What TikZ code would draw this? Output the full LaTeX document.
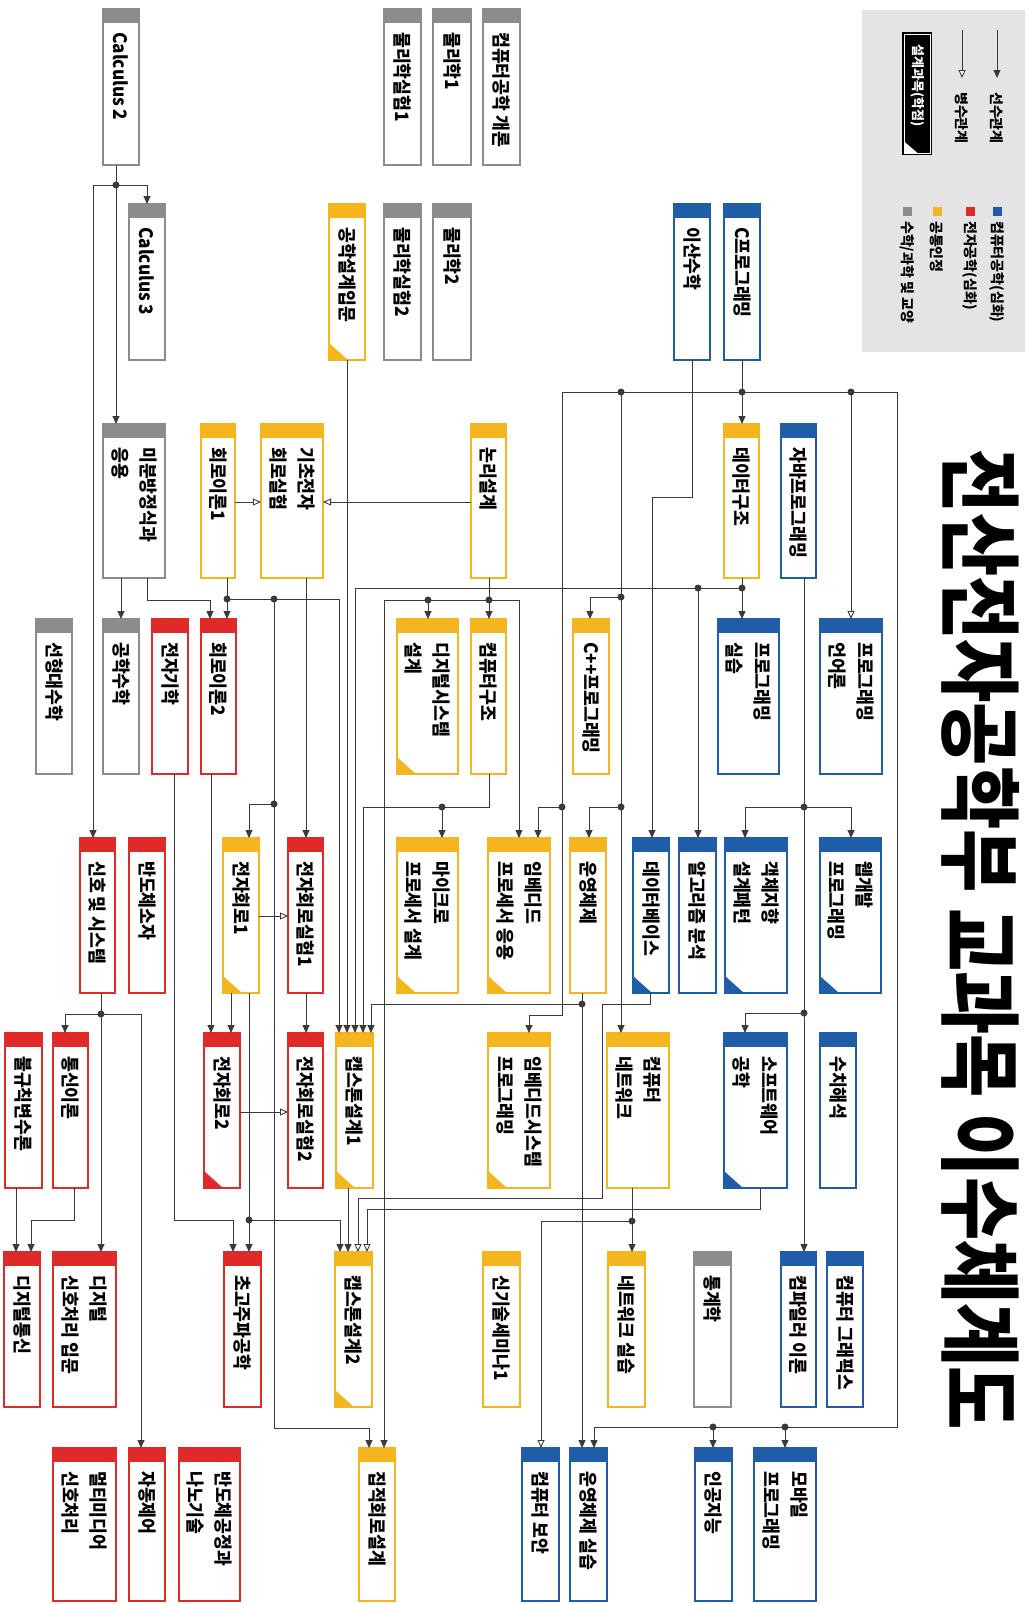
\documentclass[tikz,border=0pt]{standalone}
\usepackage{fontspec}
\setmainfont{Noto Sans CJK KR}[BoldFont={Noto Sans CJK KR Black}]
\newfontfamily\boxfont{Noto Sans CJK KR Black}[FakeStretch=0.93]
\usetikzlibrary{arrows.meta}
\definecolor{cblue}{HTML}{1F5DA8}
\definecolor{cred}{HTML}{E02A2A}
\definecolor{cyel}{HTML}{F5B51F}
\definecolor{cgray}{HTML}{8C8C8C}
\definecolor{lnc}{HTML}{3A3A3A}
\definecolor{legbg}{HTML}{E4E4E4}
\tikzset{
  cbox/.style={draw=#1, line width=2.2pt, fill=white, inner sep=0pt, outer sep=0pt, anchor=north west, rectangle},
  ktext/.style={rotate=-90, anchor=west, align=left, inner sep=0pt, font=\boxfont\fontsize{18.5}{28}\selectfont},
  ltext/.style={rotate=-90, anchor=west, inner sep=0pt, font=\bfseries\fontsize{14}{16}\selectfont},
  lnp/.style={draw=lnc, line width=0.9pt},
  pre/.style={lnp, -{Triangle[length=8pt,width=7pt]}},
  co/.style={lnp, -{Triangle[open,fill=white,length=8pt,width=7pt]}},
}
\newcommand\crs[7]{%
  \node[cbox=#6,minimum width=#4pt,minimum height=#5pt] (#1) at (#2,#3) {};
  \fill[#6] (#1.north west) rectangle ([yshift=-14pt]#1.north east);
  \node[ktext] at ([yshift=-23pt]#1.north) {#7};
}
\newcommand\dsn[2]{\fill[#2] (#1.south west) -- ++(0pt,17pt) -- ++(19pt,-17pt) -- cycle;}
\newcommand\dt[2]{\fill[lnc] (#1,#2) circle (3.5pt);}
\begin{document}
\begin{tikzpicture}[x=1pt,y=-1pt]
\useasboundingbox (0,0) rectangle (1029,1604);
\fill[white] (0,0) rectangle (1029,1604);

% ---------- legend ----------
\fill[legbg] (862,10) rectangle (1025,352);
\coordinate (lg1a) at (997,30); \coordinate (lg1b) at (997,78);
\coordinate (lg2a) at (962,30); \coordinate (lg2b) at (962,78);
\draw[pre] (lg1a) -- (lg1b);
\draw[co] (lg2a) -- (lg2b);
\node[ltext] (lgt1) at (997,92) {선수관계};
\node[ltext] (lgt2) at (962,92) {병수관계};
\node[fill=black, minimum width=30pt, minimum height=123pt, anchor=north west, inner sep=0pt] (dbox) at (902,32) {};
\draw[white, line width=0.8pt] ([shift={(2pt,-2pt)}]dbox.north west) rectangle ([shift={(-2pt,2pt)}]dbox.south east);
\fill[white] ([shift={(2pt,2pt)}]dbox.south west) -- ++(0pt,12pt) -- ++(14pt,-12pt) -- cycle;
\node[ltext, text=white, font=\bfseries\fontsize{13}{15}\selectfont] (dboxt) at ([yshift=-12pt]dbox.north) {설계과목(학점)};
\fill[cblue] (993,207) rectangle (1002,216);
\fill[cred]  (966,207) rectangle (975,216);
\fill[cyel]  (933,207) rectangle (942,216);
\fill[cgray] (903,207) rectangle (912,216);
\node[ltext] (lc1) at (997,221) {컴퓨터공학(심화)};
\node[ltext] (lc2) at (970,221) {전자공학(심화)};
\node[ltext] (lc3) at (937,221) {공통인정};
\node[ltext] (lc4) at (907,221) {수학/과학 및 교양};

% ---------- title ----------
\node[rotate=-90, inner sep=0pt] (title) at (981,940) {\resizebox{980pt}{70pt}{\bfseries 전산전자공학부 교과목 이수체계도}};

% ---------- boxes ----------
% row -1
\crs{cal2}{103}{9}{36}{156}{cgray}{Calculus 2}
\crs{phl1}{384}{9}{37}{156}{cgray}{물리학실험1}
\crs{phy1}{433}{9}{38}{156}{cgray}{물리학1}
\crs{intro}{483}{9}{37}{156}{cgray}{컴퓨터공학 개론}
% row 0
\crs{cal3}{129}{204}{36}{156}{cgray}{Calculus 3}
\crs{edi}{329}{204}{36}{156}{cyel}{공학설계입문}\dsn{edi}{cyel}
\crs{phl2}{384}{204}{37}{156}{cgray}{물리학실험2}
\crs{phy2}{433}{204}{38}{156}{cgray}{물리학2}
\crs{dm}{674}{204}{36}{156}{cblue}{이산수학}
\crs{cprog}{724}{204}{36}{156}{cblue}{C프로그래밍}
% row 1
\crs{de}{103}{424}{62}{154}{cgray}{미분방정식과\\응용}
\crs{ct1}{201}{424}{34}{154}{cyel}{회로이론1}
\crs{bel}{261}{424}{62}{154}{cyel}{기초전자\\회로실험}
\crs{ld}{471}{424}{35}{154}{cyel}{논리설계}
\crs{ds}{724}{424}{35}{154}{cyel}{데이터구조}
\crs{java}{781}{424}{35}{154}{cblue}{자바프로그래밍}
% row 2
\crs{la}{36}{619}{36}{155}{cgray}{선형대수학}
\crs{em}{103}{619}{36}{155}{cgray}{공학수학}
\crs{emag}{152}{619}{36}{155}{cred}{전자기학}
\crs{ct2}{201}{619}{35}{155}{cred}{회로이론2}
\crs{dsd}{397}{619}{61}{155}{cyel}{디지털시스템\\설계}\dsn{dsd}{cyel}
\crs{ca}{471}{619}{35}{155}{cyel}{컴퓨터구조}
\crs{cpp}{573}{619}{36}{155}{cyel}{C++프로그래밍}
\crs{pp}{718}{619}{61}{155}{cblue}{프로그래밍\\실습}
\crs{pl}{820}{619}{62}{155}{cblue}{프로그래밍\\언어론}
% row 3
\crs{ss}{80}{838}{35}{155}{cred}{신호 및 시스템}
\crs{sd}{129}{838}{36}{155}{cred}{반도체소자}
\crs{ec1}{223}{838}{36}{155}{cyel}{전자회로1}\dsn{ec1}{cyel}
\crs{ecl1}{288}{838}{35}{155}{cred}{전자회로실험1}
\crs{mpd}{397}{838}{61}{155}{cyel}{마이크로\\프로세서 설계}\dsn{mpd}{cyel}
\crs{epa}{488}{838}{62}{155}{cyel}{임베디드\\프로세서 응용}\dsn{epa}{cyel}
\crs{os}{570}{838}{36}{155}{cyel}{운영체제}
\crs{db}{633}{838}{36}{155}{cblue}{데이터베이스}\dsn{db}{cblue}
\crs{alg}{679}{838}{37}{155}{cblue}{알고리즘 분석}
\crs{oop}{725}{838}{62}{155}{cblue}{객체지향\\설계패턴}\dsn{oop}{cblue}
\crs{web}{820}{838}{61}{155}{cblue}{웹개발\\프로그래밍}\dsn{web}{cblue}
% row 4
\crs{rv}{5}{1033}{37}{155}{cred}{불규칙변수론}
\crs{ct}{53}{1033}{35}{155}{cred}{통신이론}
\crs{ec2}{204}{1033}{36}{155}{cred}{전자회로2}\dsn{ec2}{cred}
\crs{ecl2}{288}{1033}{35}{155}{cred}{전자회로실험2}
\crs{cap1}{336}{1033}{37}{155}{cyel}{캡스톤설계1}\dsn{cap1}{cyel}
\crs{esp}{488}{1033}{62}{155}{cyel}{임베디드시스템\\프로그래밍}\dsn{esp}{cyel}
\crs{net}{607}{1033}{62}{155}{cyel}{컴퓨터\\네트워크}
\crs{se}{724}{1033}{63}{155}{cblue}{소프트웨어\\공학}\dsn{se}{cblue}
\crs{na}{820}{1033}{36}{155}{cblue}{수치해석}
% row 5
\crs{dcom}{4}{1252}{36}{155}{cred}{디지털통신}
\crs{dsp}{53}{1252}{63}{155}{cred}{디지털\\신호처리 입문}
\crs{mw}{224}{1252}{37}{155}{cred}{초고주파공학}
\crs{cap2}{335}{1252}{37}{155}{cyel}{캡스톤설계2}\dsn{cap2}{cyel}
\crs{sem}{483}{1252}{37}{155}{cyel}{신기술세미나1}
\crs{netl}{608}{1252}{37}{155}{cyel}{네트워크 실습}
\crs{stat}{694}{1252}{37}{155}{cgray}{통계학}
\crs{comp}{781}{1252}{35}{155}{cblue}{컴파일러 이론}
\crs{cg}{827}{1252}{36}{155}{cblue}{컴퓨터 그래픽스}
% row 6
\crs{mm}{53}{1448}{63}{153}{cred}{멀티미디어\\신호처리}
\crs{ac}{129}{1448}{36}{153}{cred}{자동제어}
\crs{semi}{179}{1448}{61}{153}{cred}{반도체공정과\\나노기술}
\crs{icd}{359}{1448}{36}{153}{cyel}{집적회로설계}
\crs{sec}{522}{1448}{37}{153}{cblue}{컴퓨터 보안}
\crs{osl}{570}{1448}{37}{153}{cblue}{운영체제 실습}
\crs{ai}{695}{1448}{37}{153}{cblue}{인공지능}
\crs{mob}{754}{1448}{62}{153}{cblue}{모바일\\프로그래밍}

% ---------- connectors ----------
% Calculus 2
\draw[pre] (cal2.south -| 116,0) |- (147,185) -- (cal3.north -| 147,0);
\draw[pre] (cal2.south -| 116,0) -- (de.north -| 116,0);
\draw[pre] (116,185) -- (93,185) -- (ss.north -| 93,0);
\dt{116}{185}
% differential equations
\draw[pre] (de.south -| 121,0) -- (em.north -| 121,0);
\draw[pre] (de.south -| 147,0) |- (210,600) -- (ct2.north -| 210,0);
% circuit theory 1
\draw[pre] (ct1.south -| 227,0) -- (ct2.north -| 227,0);
\draw[pre] (227,599) -- (339,599) -- (cap1.north -| 339,0);
\draw[pre] (274,599) -- (274,804) -- (249,804) -- (ec1.north -| 249,0);
\draw[pre] (274,804) -- (274,1428) -- (369,1428) -- (icd.north -| 369,0);
\dt{227}{599}\dt{274}{599}\dt{274}{804}
\draw[co] (ct1.east |- 0,502) -- (bel.west |- 0,502);
\draw[co] (ld.west |- 0,502) -- (bel.east |- 0,502);
\draw[pre] (bel.south -| 306,0) -- (ecl1.north -| 306,0);
\draw[pre] (edi.south -| 347,0) -- (cap1.north -| 347,0);
% data structures
\draw[pre] (ds.south -| 742,0) -- (pp.north -| 742,0);
\draw[pre] (742,588) -- (355,588) -- (cap1.north -| 355,0);
\draw[pre] (698,588) -- (alg.north -| 698,0);
\dt{742}{588}\dt{698}{588}
% logic design
\draw[pre] (ld.south -| 489,0) -- (ca.north -| 489,0);
\draw[pre] (489,600) -- (519,600) -- (epa.north -| 519,0);
\draw[pre] (428,600) -- (dsd.north -| 428,0);
\draw[pre] (489,600) -- (384,600) -- (icd.north -| 384,0);
\dt{489}{600}\dt{428}{600}
% computer architecture
\draw[pre] (ca.south -| 489,0) -- (489,807) -- (363,807) -- (cap1.north -| 363,0);
\draw[pre] (442,807) -- (mpd.north -| 442,0);
\dt{442}{807}
% C programming
\draw[pre] (cprog.south -| 742,0) -- (ds.north -| 742,0);
\draw[lnp] (562,392) -- (897,392);
\dt{742}{392}\dt{621}{392}\dt{851}{392}
\draw[co] (851,392) -- (pl.north -| 851,0);
\draw[pre] (562,392) -- (562,807) -- (538,807) -- (epa.north -| 538,0);
\draw[pre] (562,807) -- (562,1015) -- (529,1015) -- (esp.north -| 529,0);
\dt{562}{807}
\draw[pre] (621,392) -- (621,597) -- (590,597) -- (cpp.north -| 590,0);
\draw[pre] (621,597) -- (621,807) -- (589,807) -- (os.north -| 589,0);
\draw[pre] (621,807) -- (net.north -| 621,0);
\dt{621}{597}\dt{621}{807}
\draw[pre] (897,392) -- (897,1427) -- (594,1427) -- (osl.north -| 594,0);
\draw[pre] (713,1427) -- (ai.north -| 713,0);
\draw[pre] (785,1427) -- (mob.north -| 785,0);
\dt{713}{1427}\dt{785}{1427}
% discrete math
\draw[pre] (dm.south -| 692,0) -- (692,497) -- (652,497) -- (db.north -| 652,0);
% java
\draw[pre] (java.south -| 804,0) -- (comp.north -| 804,0);
\draw[pre] (804,807) -- (745,807) -- (oop.north -| 745,0);
\draw[pre] (804,807) -- (851,807) -- (web.north -| 851,0);
\draw[pre] (804,1013) -- (745,1013) -- (se.north -| 745,0);
\dt{804}{807}\dt{804}{1013}
% operating systems
\draw[pre] (os.south -| 582,0) -- (osl.north -| 582,0);
\draw[pre] (582,1004) -- (371,1004) -- (cap1.north -| 371,0);
\dt{582}{1004}
% database, software engineering
\draw[co] (db.south -| 650,0) -- (650,1004) -- (602,1004) -- (602,1198) -- (358,1198) -- (cap2.north -| 358,0);
\draw[co] (se.south -| 760,0) -- (760,1209) -- (367,1209) -- (cap2.north -| 367,0);
% network
\draw[pre] (net.south -| 632,0) -- (netl.north -| 632,0);
\draw[co] (632,1221) -- (541,1221) -- (sec.north -| 541,0);
\dt{632}{1221}
% capstone
\draw[pre] (cap1.south -| 348,0) -- (cap2.north -| 348,0);
% electronics
\draw[pre] (ec1.south -| 231,0) -- (ec2.north -| 231,0);
\draw[pre] (ct2.south -| 211,0) -- (ec2.north -| 211,0);
\draw[co] (ec1.east |- 0,916) -- (ecl1.west |- 0,916);
\draw[co] (ec2.east |- 0,1112) -- (ecl2.west |- 0,1112);
\draw[pre] (ecl1.south -| 306,0) -- (ecl2.north -| 306,0);
\draw[pre] (ec1.south -| 249,0) -- (mw.north -| 249,0);
\draw[pre] (249,1220) -- (340,1220) -- (cap2.north -| 340,0);
\dt{249}{1220}
\draw[pre] (emag.south -| 174,0) -- (174,1220) -- (233,1220) -- (mw.north -| 233,0);
% signals
\draw[pre] (ss.south -| 101,0) -- (dsp.north -| 101,0);
\draw[pre] (101,1014) -- (65,1014) -- (ct.north -| 65,0);
\draw[pre] (101,1014) -- (141,1014) -- (ac.north -| 141,0);
\dt{101}{1014}
\draw[pre] (rv.south -| 16,0) -- (dcom.north -| 16,0);
\draw[pre] (ct.south -| 74,0) -- (74,1220) -- (31,1220) -- (dcom.north -| 31,0);
\end{tikzpicture}
\end{document}
